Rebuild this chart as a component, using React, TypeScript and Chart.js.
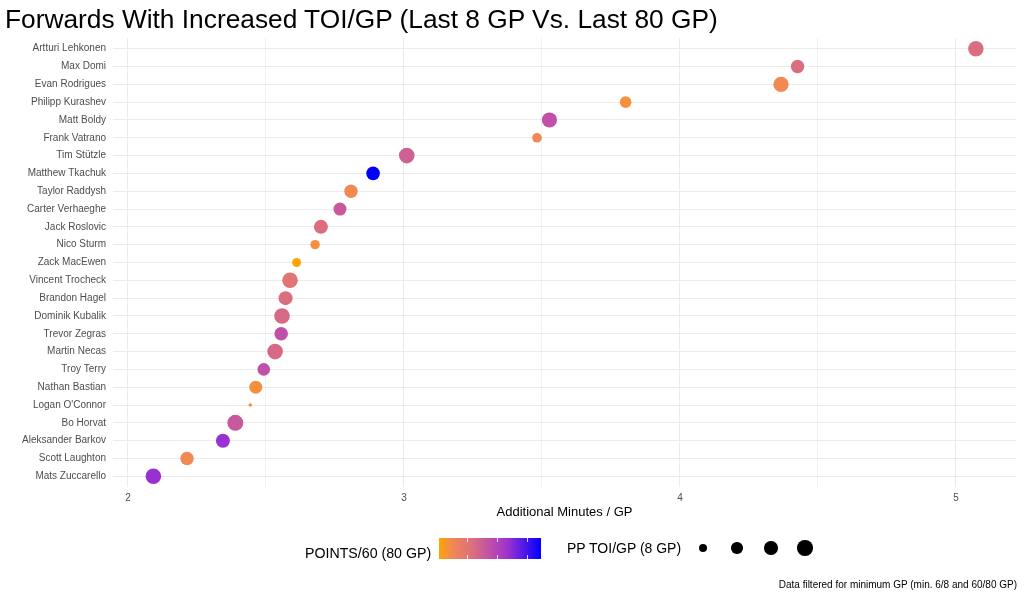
import React, { useEffect, useRef } from "react";
import { Chart, registerables } from "chart.js";

Chart.register(...registerables);

// ---------------- data ----------------
const players = [
  "Artturi Lehkonen",
  "Max Domi",
  "Evan Rodrigues",
  "Philipp Kurashev",
  "Matt Boldy",
  "Frank Vatrano",
  "Tim Stützle",
  "Matthew Tkachuk",
  "Taylor Raddysh",
  "Carter Verhaeghe",
  "Jack Roslovic",
  "Nico Sturm",
  "Zack MacEwen",
  "Vincent Trocheck",
  "Brandon Hagel",
  "Dominik Kubalik",
  "Trevor Zegras",
  "Martin Necas",
  "Troy Terry",
  "Nathan Bastian",
  "Logan O'Connor",
  "Bo Horvat",
  "Aleksander Barkov",
  "Scott Laughton",
  "Mats Zuccarello",
];

// Additional minutes / GP (last 8 GP vs last 80 GP)
const minutesAdded = [
  5.072, 4.426, 4.366, 3.803, 3.527, 3.482, 3.01, 2.888, 2.808, 2.768, 2.699,
  2.678, 2.611, 2.587, 2.571, 2.558, 2.555, 2.533, 2.492, 2.463, 2.443, 2.389,
  2.344, 2.214, 2.092,
];

// PP TOI/GP (8 GP)
const ppToiPerGp = [
  4.12, 2.98, 4.12, 2.12, 3.95, 1.33, 4.25, 3.09, 2.98, 2.78, 3.31, 1.25, 1.1,
  4.25, 3.31, 4.25, 3.09, 4.25, 2.58, 2.78, 0.05, 4.5, 3.31, 2.98, 4.25,
];

// POINTS/60 (80 GP)
const points60 = [
  2.19, 2.2, 1.51, 1.36, 2.77, 1.52, 2.46, 4.46, 1.51, 2.6, 2.19, 1.4, 1.07,
  2.02, 2.19, 2.29, 2.77, 2.29, 2.77, 1.38, 1.42, 2.6, 3.37, 1.51, 3.38,
];

const xTicks = [2, 2.5, 3, 3.5, 4, 4.5, 5];
const sizeLegendValues = [1, 2, 3, 4];
const colorBreaks = [2, 3, 4];

// ---------------- styling helpers ----------------
const FONT = '"Liberation Sans", Arial, Helvetica, sans-serif';
const TEXT_DARK = "#4d4d4d";
const GRID = "#ebebeb";
const GRID_MINOR = "#f2f2f2";

const gradientStops: [number, string][] = [
  [0, "#FFA500"],
  [0.12, "#F18A50"],
  [0.33, "#DB6E7E"],
  [0.5, "#C050A8"],
  [0.68, "#9A30D0"],
  [1, "#0000FF"],
];

const pMin = Math.min(...points60);
const pMax = Math.max(...points60);

function hexToRgb(h: string) {
  const n = parseInt(h.slice(1), 16);
  return [(n >> 16) & 255, (n >> 8) & 255, n & 255];
}

function colorFor(v: number) {
  const t = Math.max(0, Math.min(1, (v - pMin) / (pMax - pMin)));
  for (let i = 0; i < gradientStops.length - 1; i++) {
    const [t0, c0] = gradientStops[i];
    const [t1, c1] = gradientStops[i + 1];
    if (t <= t1) {
      const f = (t - t0) / (t1 - t0);
      const a = hexToRgb(c0);
      const b = hexToRgb(c1);
      const r = a.map((x, k) => Math.round(x + (b[k] - x) * f));
      return `rgb(${r[0]},${r[1]},${r[2]})`;
    }
  }
  return gradientStops[gradientStops.length - 1][1];
}

function radiusFor(v: number) {
  return 1 + 3.3 * Math.sqrt(Math.max(0, v));
}

const X_MIN = 1.9457;
const X_MAX = 5.2174;

export default function App() {
  const canvasRef = useRef<HTMLCanvasElement | null>(null);

  useEffect(() => {
    const canvas = canvasRef.current;
    if (!canvas) return;
    const data = minutesAdded.map((x, i) => ({ x, y: i }));
    const chart = new Chart(canvas, {
      type: "scatter",
      data: {
        datasets: [
          {
            data,
            pointRadius: ppToiPerGp.map(radiusFor),
            pointHoverRadius: ppToiPerGp.map(radiusFor),
            pointBackgroundColor: points60.map(colorFor),
            pointBorderWidth: 0,
            pointBorderColor: "rgba(0,0,0,0)",
          },
        ],
      },
      options: {
        animation: false,
        responsive: false,
        events: [],
        layout: { padding: { top: 38, right: 4, bottom: 0, left: 0 } },
        plugins: {
          legend: { display: false },
          tooltip: { enabled: false },
          title: { display: false },
        },
        scales: {
          x: {
            type: "linear",
            min: X_MIN,
            max: X_MAX,
            afterBuildTicks: (scale: any) => {
              scale.ticks = xTicks.map((v) => ({ value: v }));
            },
            afterFit: (scale: any) => {
              scale.height = 110;
            },
            border: { display: false },
            grid: {
              drawTicks: false,
              lineWidth: 1,
              color: (ctx: any) =>
                ctx.tick && ctx.tick.value % 1 !== 0 ? GRID_MINOR : GRID,
            },
            ticks: {
              autoSkip: false,
              maxRotation: 0,
              padding: 5,
              color: TEXT_DARK,
              font: { family: FONT, size: 10 },
              callback: (v: any) => (Number(v) % 1 === 0 ? String(v) : ""),
            },
          },
          y: {
            type: "linear",
            min: -0.6,
            max: players.length - 1 + 0.6,
            reverse: true,
            afterBuildTicks: (scale: any) => {
              scale.ticks = players.map((_, i) => ({ value: i }));
            },
            afterFit: (scale: any) => {
              scale.width = 113;
            },
            border: { display: false },
            grid: { drawTicks: false, color: GRID, lineWidth: 1 },
            ticks: {
              autoSkip: false,
              padding: 7,
              color: TEXT_DARK,
              font: { family: FONT, size: 10 },
              callback: (v: any) => players[Number(v)] ?? "",
            },
          },
        },
      },
    });
    return () => chart.destroy();
  }, []);

  const gradientCss = `linear-gradient(to right, ${gradientStops
    .map(([t, c]) => `${c} ${(t * 100).toFixed(1)}%`)
    .join(", ")})`;

  return (
    <div
      style={{
        position: "absolute",
        left: 0,
        top: 0,
        width: 1024,
        height: 597,
        background: "#ffffff",
        fontFamily: FONT,
        overflow: "hidden",
      }}
    >
      <canvas
        ref={canvasRef}
        width={1024}
        height={597}
        style={{ position: "absolute", left: 0, top: 0, width: 1024, height: 597 }}
      />
      <div
        style={{
          position: "absolute",
          left: 5,
          top: 6,
          fontSize: 26.3,
          lineHeight: "26px",
          color: "#000",
          whiteSpace: "nowrap",
        }}
      >
        Forwards With Increased TOI/GP (Last 8 GP Vs. Last 80 GP)
      </div>
      <div
        style={{
          position: "absolute",
          left: 113,
          width: 903,
          top: 505,
          fontSize: 13,
          lineHeight: "13px",
          textAlign: "center",
          color: "#000",
          whiteSpace: "nowrap",
        }}
      >
        Additional Minutes / GP
      </div>
      {/* colour legend */}
      <div
        style={{
          position: "absolute",
          left: 305,
          top: 546,
          fontSize: 14.2,
          lineHeight: "14px",
          color: "#000",
          whiteSpace: "nowrap",
        }}
      >
        POINTS/60 (80 GP)
      </div>
      <div
        style={{
          position: "absolute",
          left: 439,
          top: 538,
          width: 102,
          height: 21,
          background: gradientCss,
        }}
      >
        {colorBreaks.map((b) => {
          const pct = ((b - pMin) / (pMax - pMin)) * 100;
          return (
            <React.Fragment key={b}>
              <div
                style={{
                  position: "absolute",
                  left: `${pct}%`,
                  top: 0,
                  width: 1,
                  height: 4,
                  background: "rgba(255,255,255,0.8)",
                }}
              />
              <div
                style={{
                  position: "absolute",
                  left: `${pct}%`,
                  bottom: 0,
                  width: 1,
                  height: 4,
                  background: "rgba(255,255,255,0.8)",
                }}
              />
            </React.Fragment>
          );
        })}
      </div>
      {/* size legend */}
      <div
        style={{
          position: "absolute",
          left: 567,
          top: 541,
          fontSize: 14,
          lineHeight: "14px",
          color: "#000",
          whiteSpace: "nowrap",
        }}
      >
        PP TOI/GP (8 GP)
      </div>
      <div
        style={{
          position: "absolute",
          left: 686,
          top: 530,
          height: 36,
          display: "flex",
          alignItems: "center",
        }}
      >
        {sizeLegendValues.map((v) => {
          const r = radiusFor(v);
          return (
            <div
              key={v}
              style={{
                width: 34,
                height: 36,
                display: "flex",
                alignItems: "center",
                justifyContent: "center",
              }}
            >
              <div
                style={{
                  width: 2 * r,
                  height: 2 * r,
                  borderRadius: "50%",
                  background: "#000",
                }}
              />
            </div>
          );
        })}
      </div>
      <div
        style={{
          position: "absolute",
          right: 7,
          top: 580,
          fontSize: 10,
          lineHeight: "10px",
          color: "#000",
          whiteSpace: "nowrap",
        }}
      >
        Data filtered for minimum GP (min. 6/8 and 60/80 GP)
      </div>
    </div>
  );
}
